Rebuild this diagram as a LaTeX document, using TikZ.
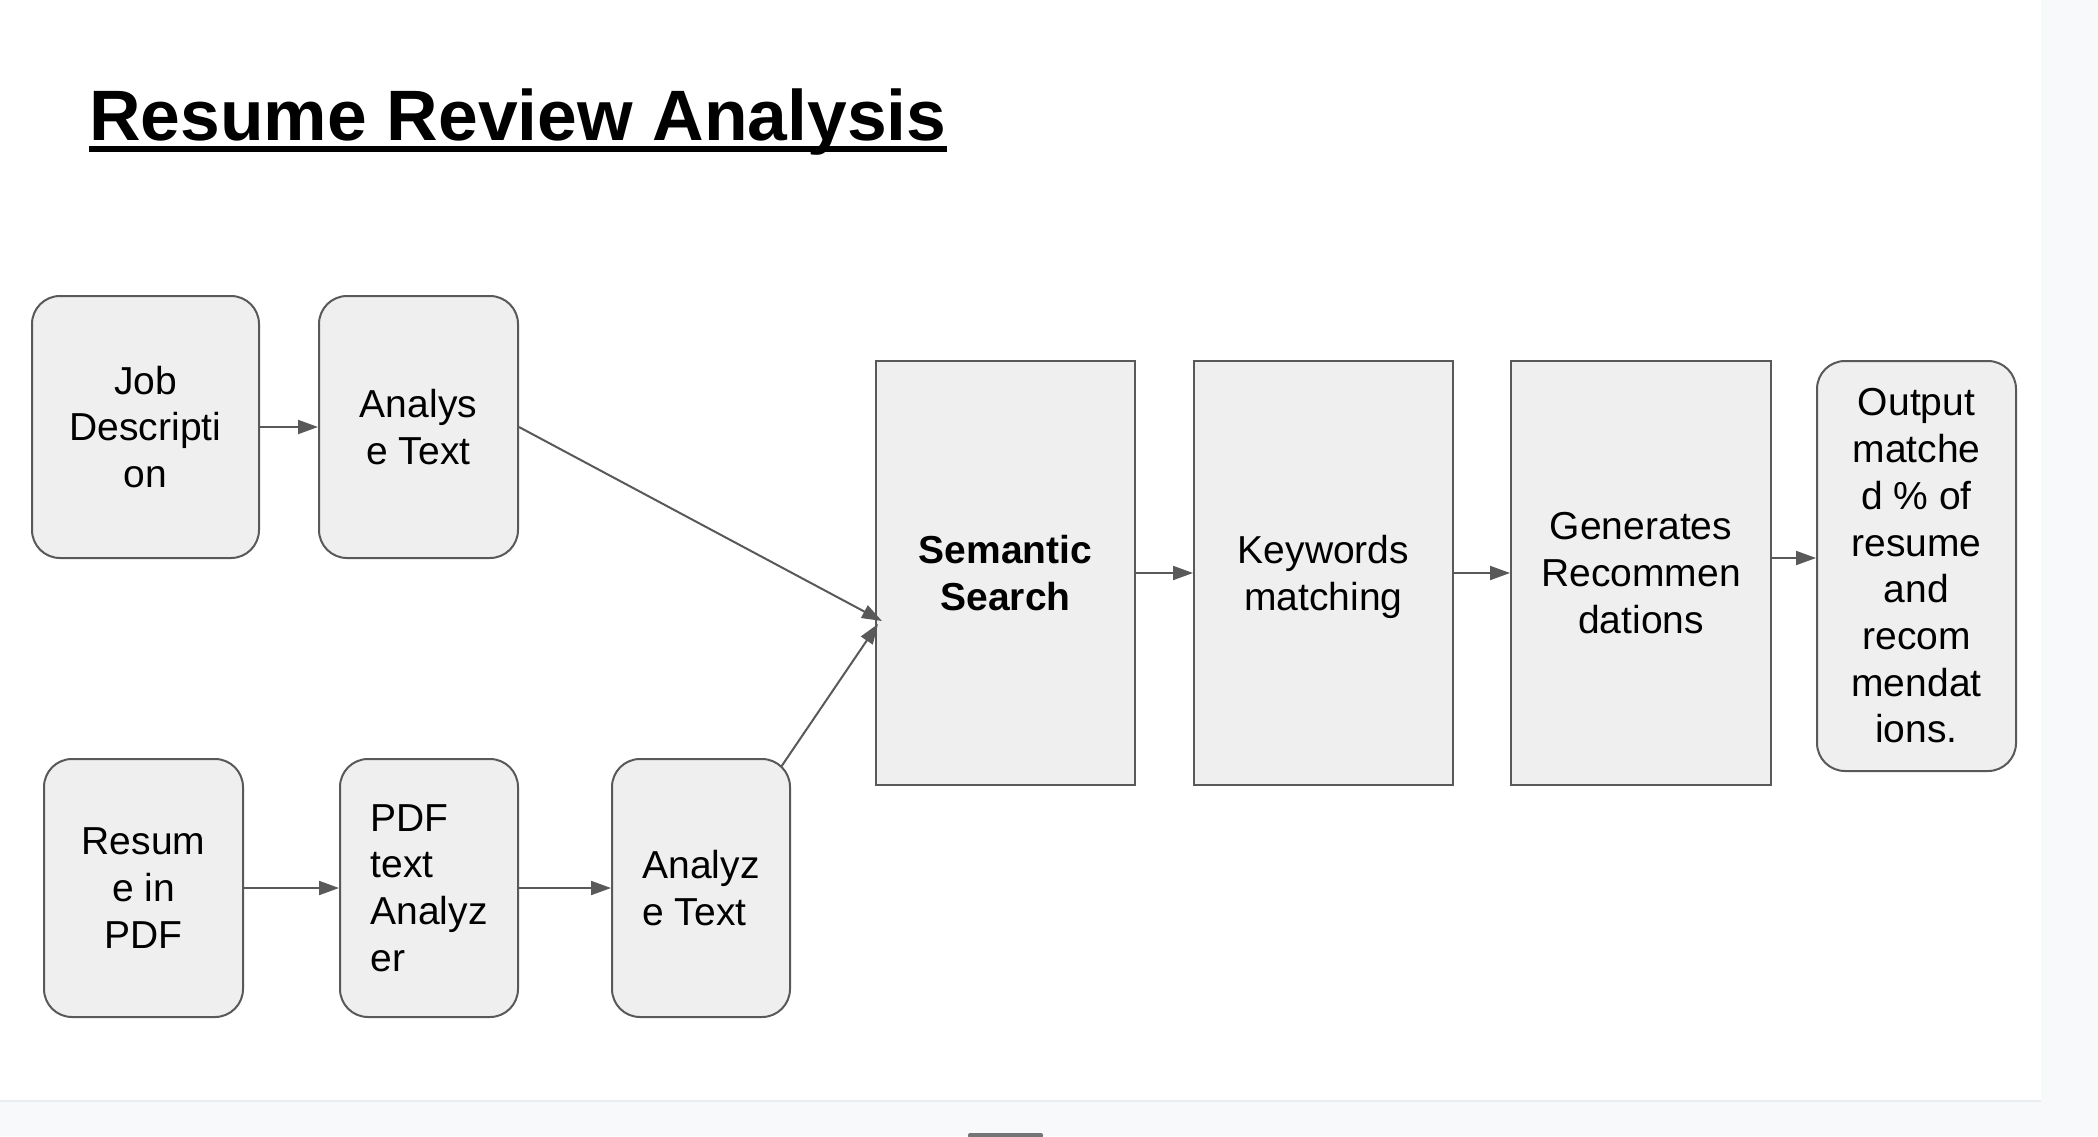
\documentclass[tikz,border=0pt]{standalone}
\usepackage{fontspec}
\setmainfont{Liberation Sans}
\usetikzlibrary{arrows.meta}
\definecolor{boxfill}{HTML}{EFEFEF}
\definecolor{boxline}{HTML}{595959}
\definecolor{stripcol}{HTML}{F8F9FA}
\definecolor{striplinecol}{HTML}{ECEDEF}
\definecolor{barcol}{HTML}{757575}
\newcommand{\rrbfont}{\fontsize{19.5pt}{23.35pt}\selectfont}
\begin{document}
\begin{tikzpicture}[x=0.5pt,y=-0.5pt,
  flow/.style={draw=boxline, line width=1pt, fill=boxfill, inner sep=0pt, align=center, font=\rrbfont},
  rbox/.style={flow, rounded corners=14pt},
  conn/.style={draw=boxline, line width=1pt, -{Triangle[length=10pt,width=7pt]}},
]
\useasboundingbox (0,0) rectangle (2098,1136);
% background
\fill[white] (0,0) rectangle (2098,1136);
\fill[stripcol] (2041,0) rectangle (2098,1136);
\fill[stripcol] (0,1101) rectangle (2041,1136);
\draw[striplinecol, line width=1pt] (0,1101) -- (2041,1101);
\fill[barcol, rounded corners=1pt] (968,1133) rectangle (1043,1138);

% title
\node[anchor=base west, inner sep=0pt, font=\fontsize{35.7pt}{40pt}\selectfont\bfseries] (title) at (89,140) {Resume Review Analysis};
\draw[line width=3pt] ([yshift=-4.5pt]title.base west) -- ([yshift=-4.5pt]title.base east);

% top row
\node[rbox, minimum width=113.5pt, minimum height=131pt] (jd) at (145.5,427) {Job\\Descripti\\on};
\node[rbox, minimum width=99.5pt, minimum height=131pt] (at1) at (418.5,427) {Analys\\e Text};

% main pipeline
\node[flow, minimum width=129.5pt, minimum height=212pt, font=\rrbfont\bfseries] (ss) at (1005.5,573) {Semantic\\Search};
\node[flow, minimum width=129.5pt, minimum height=212pt] (kw) at (1323.5,573) {Keywords\\\raisebox{0pt}[\height][0pt]{matching}};
\node[flow, minimum width=130pt, minimum height=212pt] (gr) at (1641,573) {Generates\\Recommen\\dations};
\node[rbox, minimum width=99.5pt, minimum height=205pt] (out) at (1916.5,566) {Output\\matche\\d \% of\\resume\\and\\recom\\mendat\\ions.};

% bottom row
\node[rbox, minimum width=99.5pt, minimum height=129pt] (rp) at (143.5,888) {Resum\\e in\\PDF};
\node[rbox, minimum width=89pt, minimum height=129pt, align=left] (pa) at (429,888) {PDF\\text\\Analyz\\er};
\node[rbox, minimum width=89pt, minimum height=129pt, align=left] (at2) at (701,888) {Analyz\\e Text};

% connectors
\coordinate (tipA) at (882,621);
\coordinate (tipB) at (878,624);
\coordinate (startB) at (781,767);
\draw[conn] (jd.east) -- (at1.west);
\draw[conn] (at1.east) -- (tipA);
\draw[conn] (startB) -- (tipB);
\draw[conn] (ss.east) -- (kw.west);
\draw[conn] (kw.east) -- (gr.west);
\draw[conn] ([yshift=7.5pt]gr.east) -- ([yshift=4pt]out.west);
\draw[conn] (rp.east) -- (pa.west);
\draw[conn] (pa.east) -- (at2.west);
\end{tikzpicture}
\end{document}
